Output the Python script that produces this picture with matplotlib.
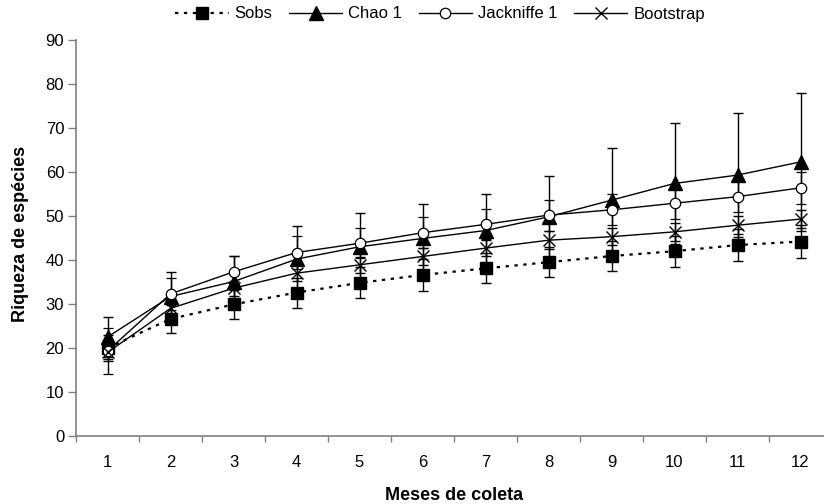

# species accumulation curves (Sobs, Chao 1, Jackknife 1, Bootstrap) per month of sampling

import numpy as np
from matplotlib import pyplot as plt
from matplotlib.lines import Line2D
from matplotlib.ticker import FixedLocator

########################################  DATA  ##############################################

meses = np.arange(1, 13)

sobs = [20.0, 26.6, 29.9, 32.6, 34.8, 36.6, 38.1, 39.5, 40.9, 42.0, 43.4, 44.2]
sobs_sd = [3.0, 3.2, 3.3, 3.4, 3.5, 3.6, 3.4, 3.4, 3.4, 3.5, 3.7, 3.8]

chao = [22.5, 31.7, 35.1, 40.2, 43.0, 44.9, 46.7, 49.8, 53.6, 57.4, 59.3, 62.3]
chao_sd = [4.5, 5.6, 5.8, 7.6, 7.6, 7.8, 8.2, 9.3, 11.9, 13.8, 14.0, 15.6]

jack = [19.3, 32.3, 37.3, 41.7, 43.8, 46.2, 48.1, 50.2, 51.4, 52.9, 54.4, 56.4]
jack_sd = [5.3, 3.6, 3.6, 3.8, 3.4, 3.5, 3.4, 3.5, 3.5, 3.5, 3.5, 3.6]

boot = [19.0, 29.0, 33.6, 37.0, 38.9, 40.8, 42.7, 44.5, 45.3, 46.4, 47.9, 49.3]
boot_sd = [1.5, 1.6, 1.7, 1.8, 1.8, 1.9, 1.9, 2.0, 2.0, 2.0, 2.1, 2.1]

y_ticks = [0, 10, 20, 30, 40, 50, 60, 70, 80, 90]

########################################  STYLES  ############################################

dotted = (0, (1.5, 2.5))
styles = [
    dict(label='Sobs', ls=dotted, lw=1.6, marker='s', ms=9, mfc='black', mew=1.0),
    dict(label='Chao 1', ls='-', lw=1.0, marker='^', ms=9.5, mfc='black', mew=1.0),
    dict(label='Jackniffe 1', ls='-', lw=1.0, marker='o', ms=7.5, mfc='white', mew=0.9),
    dict(label='Bootstrap', ls='-', lw=1.0, marker='x', ms=8, mfc='black', mew=1.0),
]
series = [(sobs, sobs_sd), (chao, chao_sd), (jack, jack_sd), (boot, boot_sd)]

########################################  PLOT  ##############################################

plt.rcParams['font.family'] = ['Liberation Sans', 'DejaVu Sans']

fig = plt.figure(figsize=(8.24, 5.04), dpi=100)
ax = fig.add_axes([76/824, 68/504, (832-76)/824, 396/504])

for (vals, sd), st in zip(series, styles):
    ax.errorbar(meses, vals, yerr=sd, color='black', ecolor='black', elinewidth=1.0,
                capsize=3.6, capthick=1.0, linestyle=st['ls'], linewidth=st['lw'],
                marker=st['marker'], markersize=st['ms'], markerfacecolor=st['mfc'],
                markeredgecolor='black', markeredgewidth=st['mew'], zorder=3)

ax.set_xlim(0.5, 12.5)
ax.set_ylim(0, 90)
ax.set_yticks(y_ticks)
ax.set_xticks(meses)
ax.xaxis.set_minor_locator(FixedLocator(np.arange(0.5, 13, 1)))
ax.tick_params(axis='x', which='major', length=0, pad=14, labelsize=12)
ax.tick_params(axis='x', which='minor', length=4.5, width=1, color='#808080', direction='out')
ax.tick_params(axis='y', length=5.5, width=1, color='#808080', direction='out', pad=3, labelsize=12)

for s in ['top', 'right']:
    ax.spines[s].set_visible(False)
for s in ['left', 'bottom']:
    ax.spines[s].set_color('#808080')
    ax.spines[s].set_linewidth(1.2)

fig.text(454/824, 1 - 496/504, 'Meses de coleta', ha='center', va='center',
         fontsize=13, fontweight='bold')
fig.text(21/824, 1 - 234/504, 'Riqueza de espécies', ha='center', va='center',
         rotation=90, fontsize=13, fontweight='bold')

handles = [Line2D([], [], color='black', linestyle=st['ls'], linewidth=st['lw'],
                  marker=st['marker'], markersize=st['ms'], markerfacecolor=st['mfc'],
                  markeredgecolor='black', markeredgewidth=st['mew']) for st in styles]
labels = [st['label'] for st in styles]
fig.legend(handles, labels, loc='center', bbox_to_anchor=(440/824, 1 - 14/504),
           ncol=4, frameon=False, fontsize=12, handlelength=3.2,
           handletextpad=0.35, columnspacing=1.0, borderaxespad=0)

fig.savefig('out.png', dpi=100)
